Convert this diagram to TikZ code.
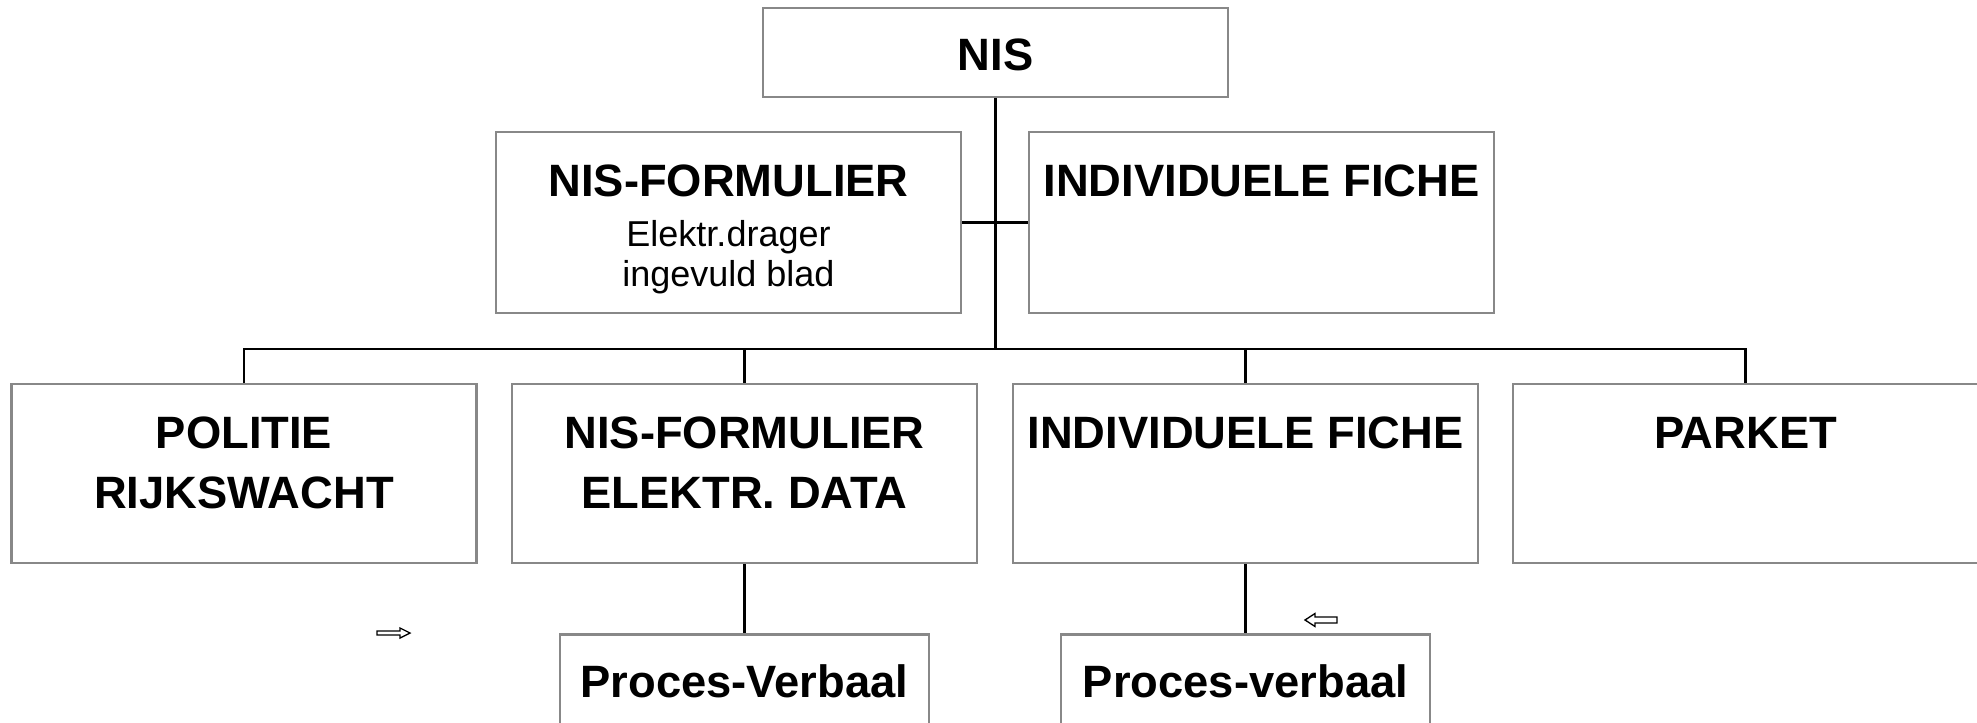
\documentclass[tikz,border=0pt]{standalone}
\usepackage{fontspec}
\setmainfont{Liberation Sans}
\definecolor{boxgray}{RGB}{136,136,136}
\begin{document}
\begin{tikzpicture}[x=0.75pt,y=-0.75pt,
  box/.style={draw=boxgray, line width=1.7pt, fill=white, inner sep=0pt,
    minimum width=348.75pt, minimum height=#1},
  box/.default=134.25pt,
  pvbox/.style={box, minimum width=276.75pt},
  title/.style={font=\fontsize{34}{40}\selectfont\bfseries, anchor=base, inner sep=0pt},
  sub/.style={font=\fontsize{27}{32}\selectfont, anchor=base, inner sep=0pt},
  link/.style={draw=black, line width=2pt},
  blockarrow/.style={draw=black, line width=1pt, fill=white, line join=miter}]
\useasboundingbox (0,0) rectangle (1977,723);
\clip (0,0) rectangle (1977,723);

% boxes
\node[box=66.75pt]  (nis) at (995.5,52.5) {};
\node[box=135.75pt] (nf1) at (728.5,222.5) {};
\node[box=135.75pt] (if1) at (1261.5,222.5) {};
\node[box] (pol) at (244,473.5) {};
\node[box] (nf2) at (744.5,473.5) {};
\node[box] (if2) at (1245.5,473.5) {};
\node[box] (par) at (1745.5,473.5) {};
\node[pvbox] (pv1) at (744.5,724) {};
\node[pvbox] (pv2) at (1245.5,724) {};

% connectors
\coordinate (hub) at (995.5,349);
\draw[link] (nis.south) -- (hub);
\draw[link] (nf1.east) -- (if1.west);
\draw[link] (pol.north) |- (hub) -| (par.north);
\draw[link] (nf2.north) -- (nf2.north |- hub);
\draw[link] (if2.north) -- (if2.north |- hub);
\draw[link] (nf2.south) -- (pv1.north);
\draw[link] (if2.south) -- (pv2.north);

% texts
\node[title] (tnis) at (995.5,71) {NIS};
\node[title] (tnf1) at (728.5,197) {NIS-FORMULIER};
\node[sub] (snf1a) at (728.5,247) {Elektr.drager};
\node[sub] (snf1b) at (728.5,287) {ingevuld blad};
\node[title] (tif1) at (1261.5,197) {INDIVIDUELE FICHE};
\node[title] (tpol1) at (244,448) {POLITIE};
\node[title] (tpol2) at (244,508) {RIJKSWACHT};
\node[title] (tnf2a) at (744.5,448) {NIS-FORMULIER};
\node[title] (tnf2b) at (744.5,508) {ELEKTR. DATA};
\node[title] (tif2) at (1245.5,448) {INDIVIDUELE FICHE};
\node[title] (tpar) at (1745.5,448) {PARKET};
\node[title] (tpv1) at (744.5,697) {Proces-Verbaal};
\node[title] (tpv2) at (1245.5,697) {Proces-verbaal};

% small block arrows
\draw[blockarrow] (377,631) -- (400,631) -- (400,628) -- (410,633) -- (400,638)
  -- (400,635) -- (377,635) -- cycle;
\draw[blockarrow] (1337,617) -- (1315,617) -- (1315,613.5) -- (1305,620) -- (1315,626.5)
  -- (1315,623) -- (1337,623) -- cycle;
\end{tikzpicture}
\end{document}
